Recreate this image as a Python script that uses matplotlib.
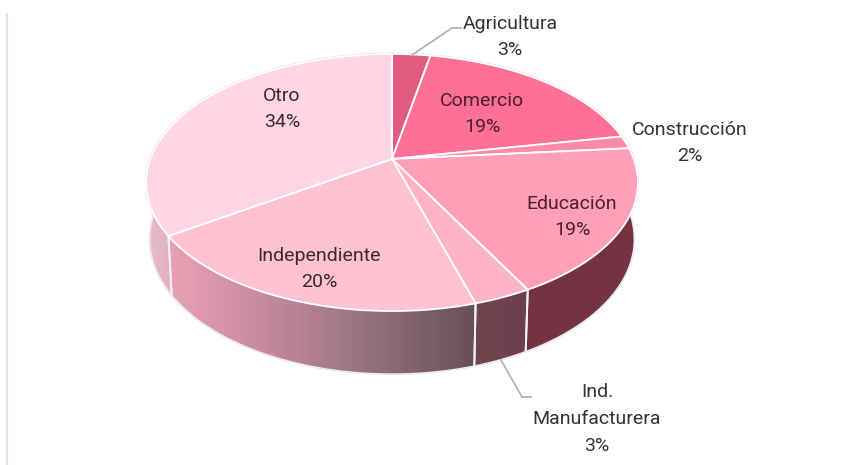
import numpy as np
import matplotlib
matplotlib.use('Agg')
import matplotlib.pyplot as plt
from matplotlib.colors import LinearSegmentedColormap
from matplotlib.patches import Polygon

plt.rcParams['font.family'] = ['Roboto', 'DejaVu Sans']

# datos
categorias = ['Agricultura', 'Comercio', 'Construcción', 'Educación',
              'Ind.\nManufacturera', 'Independiente', 'Otro']
valores = [3.0, 19.0, 1.6, 18.6, 3.2, 20.2, 34.4]
etiquetas = ['3%', '19%', '2%', '19%', '3%', '20%', '34%']

colores_top = ['#DF5C80', '#FF7096', '#FF8AA8', '#FFA0B8', '#FFB3C8', '#FFC2D2', '#FFD6E2']
colores_lado = [['#7A3044', '#7A3044'], ['#7A3044', '#7A3044'], ['#76323F', '#76323F'],
                ['#763245', '#763245'], ['#704550', '#6B3F4C'],
                ['#EBA0B6', '#C48A9C', '#94707C', '#674F56'], ['#E8BCC9', '#E2AEBD']]

# posiciones de texto (centro, en pixeles)
pos_texto = [(510, 37), (482, 114), (690, 143), (572, 217), (597, 419), (319, 269), (282, 109)]
color_texto = ['#333333', '#4A1F2E', '#333333', '#4A1F2E', '#333333', '#3A2A30', '#3A2A30']

CX, CY = 392, 159
A, B, K = 241.8, 124.2, 0.183


def top_rim(t):
    # circulo en perspectiva, t en radianes desde las 12 en sentido horario
    u, v = np.sin(t), np.cos(t)
    return CX + A * u / (1 + K * v), CY - B * v / (1 + K * v)


def bottom_rim(t):
    x, y = top_rim(t)
    return CX + (x - CX) * 0.985, 214.4 + (y - CY) * 1.05


fig = plt.figure(figsize=(8.42, 4.65), dpi=100)
ax = fig.add_axes([0, 0, 1, 1])
ax.axis('off')

ax.plot([7, 7], [13, 465], color='#E4E4E4', lw=1.6, solid_capstyle='butt')

frac = np.cumsum([0] + valores) / sum(valores) * 2 * np.pi
tramos = [(frac[i], frac[i + 1], i) for i in range(len(valores))]

# sombra gris del contorno
tt = np.linspace(0, 2 * np.pi, 400)
xo, yo = top_rim(tt)
ax.plot(xo, yo, color='#DEDEDE', lw=1.9, zorder=1)

# caras laterales, de atras hacia adelante
for t0, t1, i in sorted(tramos, key=lambda s: -np.cos((s[0] + s[1]) / 2)):
    mid_end = t1
    if i == len(valores) - 1:
        mid_end = t0 + np.radians(50)
    t = np.linspace(t0, mid_end, 80)
    xt, yt = top_rim(t)
    xb, yb = bottom_rim(t)
    pts = np.column_stack([np.r_[xt, xb[::-1]], np.r_[yt, yb[::-1]]])
    borde = Polygon(pts, closed=True, fc='none', ec='#E6E6E6', lw=1.4, zorder=2)
    ax.add_patch(borde)
    cmap = LinearSegmentedColormap.from_list('lado%d' % i, colores_lado[i])
    im = ax.imshow(np.linspace(0, 1, 256).reshape(1, -1), cmap=cmap, aspect='auto',
                   extent=(pts[:, 0].min(), pts[:, 0].max(), pts[:, 1].max(), pts[:, 1].min()),
                   zorder=3)
    clip = Polygon(pts, closed=True, transform=ax.transData)
    im.set_clip_path(clip)
    # separadores blancos
    for tv in (t0, t1):
        if np.cos(tv) < 0:
            xa, ya = top_rim(tv)
            xc, yc = bottom_rim(tv)
            ax.plot([xa, xc], [ya, yc], color='#F2F2F2', lw=1.4, zorder=4)

# borde inferior blanco
tb = np.linspace(frac[3], frac[6] + np.radians(50), 200)
xb, yb = bottom_rim(tb)
ax.plot(xb, yb, color='#EDEDED', lw=1.0, zorder=4)

# cara superior
for t0, t1, i in tramos:
    t = np.linspace(t0, t1, 120)
    xt, yt = top_rim(t)
    ax.add_patch(Polygon(np.column_stack([np.r_[CX, xt], np.r_[CY, yt]]), closed=True,
                         fc=colores_top[i], ec='white', lw=1.3, joinstyle='round', zorder=5))

# lineas guia
ax.plot([412, 452, 461], [55, 28, 28], color='#B3B3B3', lw=1.3, zorder=6)
ax.plot([501, 522, 531], [360, 397, 397], color='#B3B3B3', lw=1.3, zorder=6)

# textos
for nombre, et, (x, y), c in zip(categorias, etiquetas, pos_texto, color_texto):
    ax.text(x, y, nombre + '\n' + et, ha='center', va='center', fontsize=14,
            linespacing=1.63, color=c, zorder=7)

ax.set_xlim(0, 842)
ax.set_ylim(465, 0)
fig.savefig('out.png', dpi=100)
